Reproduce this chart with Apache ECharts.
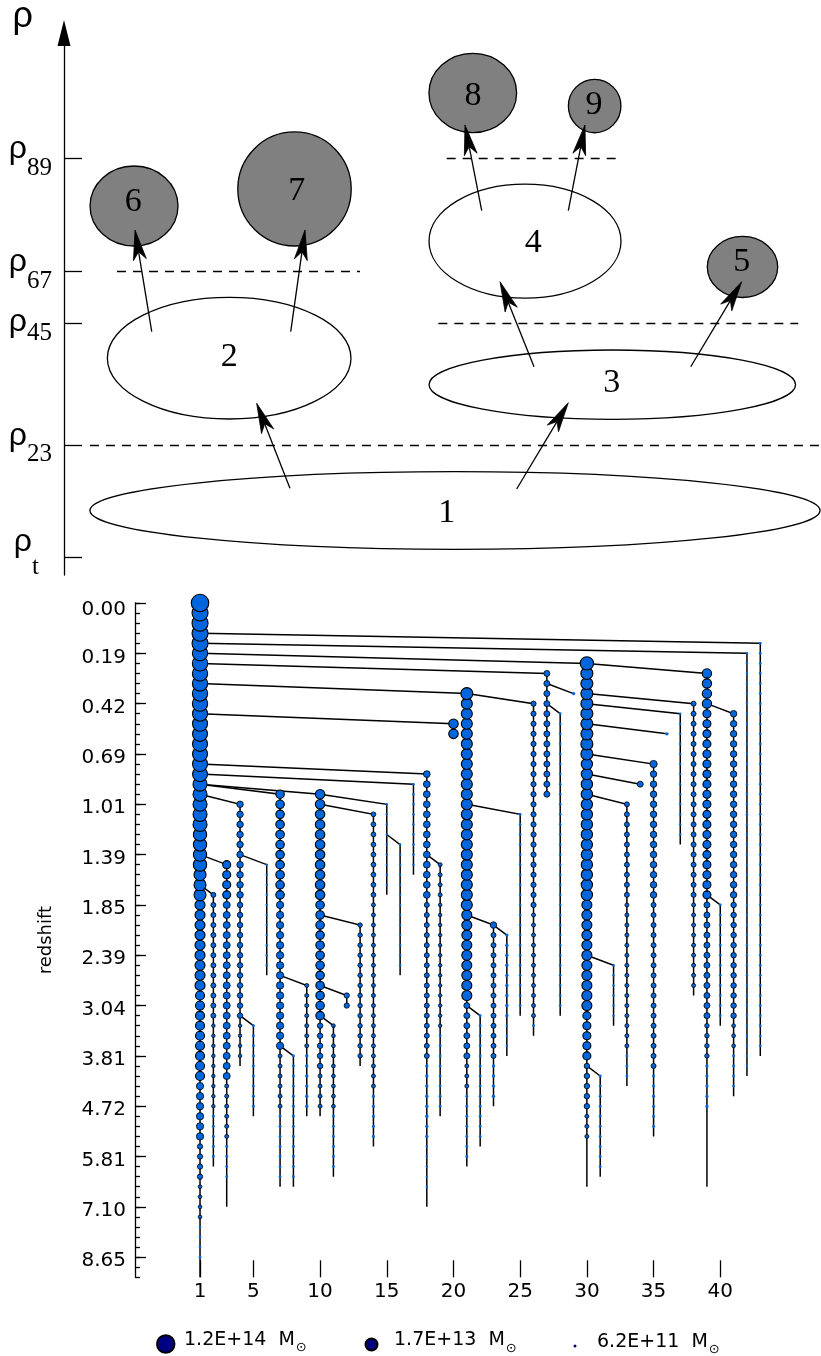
<!DOCTYPE html>
<html><head><meta charset="utf-8">
<script src="https://cdn.jsdelivr.net/npm/echarts@6.0.0/dist/echarts.min.js"></script>
<style>html,body{margin:0;padding:0;background:#fff}#c{width:821px;height:1356px}</style>
</head><body><div id="c"></div>
<script>
// ---------- top panel: density-threshold diagram ----------
const rhoLevels = [3.2, 24.0, 46.4, 56.0, 76.9];
const rhoSubs = ['t', '23', '45', '67', '89'];
const haloNames = ['1', '2', '3', '4', '5', '6', '7', '8', '9'];
const haloX  = [51.65, 21.82, 72.43, 60.90, 89.63, 9.25, 30.45, 54.00, 70.10];
const haloY  = [11.90, 40.00, 35.11, 61.59, 56.83, 68.08, 71.22, 88.93, 86.53];
const haloRX = [48.22, 16.09, 24.21, 12.68, 4.65, 5.81, 7.49, 5.79, 3.47];
const haloRY = [7.16, 11.22, 6.40, 10.52, 5.63, 7.38, 10.52, 7.32, 4.93];
const haloLeaf = [0, 0, 0, 0, 1, 1, 1, 1, 1];
const labelX = [50.55, 21.84, 72.35, 62.00, 89.52, 9.15, 30.74, 54.03, 70.01];
const labelY = [11.44, 40.28, 35.37, 61.20, 57.80, 68.87, 70.90, 88.38, 86.72];
const arrowFromX = [29.85, 59.80, 11.59, 29.95, 62.09, 82.79, 55.18, 66.62];
const arrowFromY = [16.00, 15.87, 44.89, 44.89, 38.43, 38.43, 67.21, 67.21];
const arrowToX   = [25.45, 66.62, 9.38, 31.84, 57.60, 89.52, 52.97, 68.82];
const arrowToY   = [31.68, 31.79, 63.65, 63.65, 54.11, 54.11, 83.03, 83.03];
const dashLevel = [76.9, 56.0, 46.4, 24.0];
const dashFrom  = [50.55, 7.00, 49.45, 3.43];
const dashTo    = [73.58, 39.10, 97.00, 100.0];

// ---------- bottom panel: merger tree ----------
const zLabels = ['0.00','0.19','0.42','0.69','1.01','1.39','1.85','2.39','3.04','3.81','4.72','5.81','7.10','8.65'];
const snapMax = 67;
const xTickVals = [1, 5, 10, 15, 20, 25, 30, 35, 40];
const branchCol    = [1, 2, 3, 4, 5, 6, 7, 8, 9,10,11,12,13,14,15,16,17,18,19,20,21,22,23,24,25,26,27,28,29,30,31,32,33,34,35,36,37,38,39,40,41,42,43];
const branchParent = [0, 1, 1, 1, 4, 4, 1, 7, 7, 1,10,10,10,10,10,15, 1, 1,18, 1, 1,21,21,23,21,21, 1,27,27, 1,30,30,30,30,30,30,30,30,30,39,39, 1, 1];
const branchStart  = [0,29,26,20,42,26,19,45,38,19,42,39,32,21,20,24,18,17,26,12, 9,41,32,33,21,10, 7,11, 9, 6,47,36,20,18,16,13,11,10, 7,30,11, 5, 4];
const branchEnd    = [67,56,60,46,51,37,58,58,51,51,57,40,46,54,29,37,27,60,51,13,56,54,50,45,41,43,19,41, 9,58,57,42,48,18,53,13,24,39,58,42,49,47,45];
// node diameters (px) read per run of snapshots: [firstSnap, lastSnap, diameter]
const branchSizes = [
  [[0,0,17.5],[1,4,16],[5,10,15.3],[11,17,15],[18,22,14],[23,26,13.3],[27,29,12],[30,38,10],[39,47,9],[48,53,7.3],[54,57,5.3],[58,61,3.7],[62,65,2.3]],
  [[29,41,5],[42,50,3.5],[51,55,2.5]],
  [[26,29,8],[30,47,7],[48,53,4],[54,57,2.5]],
  [[20,29,6.5],[30,41,5.5],[42,45,3.5]],
  [[42,50,2.5]],
  [[26,36,2]],
  [[19,29,8.5],[30,44,7.3],[45,50,4],[51,57,2.5]],
  [[45,57,2.5]],
  [[38,44,4],[45,50,3]],
  [[19,29,9.5],[30,41,8.5],[42,46,5.5],[47,50,4]],
  [[42,50,3.8],[51,56,2.5]],
  [[39,40,5.3]],
  [[32,45,4.5]],
  [[21,29,4.8],[30,48,4],[49,53,2.7]],
  [[20,28,2]],
  [[24,36,2]],
  [[18,26,2]],
  [[17,29,6.8],[30,45,5],[46,53,3],[54,58,2]],
  [[26,29,4],[30,42,3.5],[43,50,2.5]],
  [[12,13,9.5]],
  [[9,9,12],[10,30,11],[31,39,10],[40,45,6],[46,48,4],[49,55,2.5]],
  [[41,53,2.5]],
  [[32,32,6.5],[33,45,5],[46,49,3]],
  [[33,41,3],[42,44,2]],
  [[21,40,2.3]],
  [[10,30,5.2],[31,41,4],[42,42,2.5]],
  [[7,19,6]],
  [[11,40,2.3]],
  [[9,9,3]],
  [[6,6,13.3],[7,15,12],[16,29,11.3],[30,40,10],[41,45,8],[46,50,5.5],[51,53,4]],
  [[47,56,2.5]],
  [[36,41,2]],
  [[20,29,5],[30,44,4],[45,47,2.5]],
  [[18,18,6]],
  [[16,16,7.3],[17,29,6.5],[30,46,5],[47,52,2.7]],
  [[13,13,3]],
  [[11,23,2]],
  [[10,29,5],[30,38,4]],
  [[7,10,9.3],[11,29,8],[30,41,6],[42,45,4.5],[46,50,2.8]],
  [[30,41,2.3]],
  [[11,29,6.5],[30,41,5.5],[42,44,3.8],[45,48,2.5]],
  [[5,46,2]],
  [[4,44,2.3]]
];
const legendNames = ['L1', 'L2', 'L3'];
const legendMass = ['1.2E+14', '1.7E+13', '6.2E+11'];
const legendDiam = [17.5, 12, 3];

// ---------- build ----------
const haloData = haloX.map((x, k) => [x, haloY[k], haloRX[k], haloRY[k], haloLeaf[k], labelX[k], labelY[k]]);
const arrowData = arrowFromX.map((x, k) => [x, arrowFromY[k], arrowToX[k], arrowToY[k]]);
const dashData = dashLevel.map((v, k) => ({coords: [[dashFrom[k], v], [dashTo[k], v]]}));

const treeLines = branchCol.map((c, b) => {
  const coords = [];
  if (branchParent[b]) coords.push([branchParent[b], branchStart[b] - 1]);
  coords.push([c, branchStart[b]]);
  if (branchEnd[b] !== branchStart[b]) coords.push([c, branchEnd[b]]);
  return {coords};
});
const bigNodes = [], midNodes = [], tinyNodes = [];
branchCol.forEach((c, b) => {
  branchSizes[b].forEach(([i0, i1, d]) => {
    for (let i = i0; i <= i1; i++) (d >= 8 ? bigNodes : d >= 3.5 ? midNodes : tinyNodes).push([c, i, d]);
  });
});
[bigNodes, midNodes, tinyNodes].forEach(a => a.sort((p, q) => q[1] - p[1]));
const majorVals = zLabels.map((_, k) => k * 5);

const FS = 'DejaVu Sans';
const BLUE = '#0066dd';
const chart = echarts.init(document.getElementById('c'), null, {renderer: 'canvas'});
chart.setOption({
  animation: false,
  backgroundColor: '#fff',
  grid: [
    {left: 64, top: 33, width: 757, height: 542, outerBoundsMode: 'none'},
    {left: 135, top: 603, width: 645.3, height: 674.3, outerBoundsMode: 'none'}
  ],
  xAxis: [
    {gridIndex: 0, type: 'value', min: 0, max: 100, show: false, axisLine: {onZero: false}},
    {gridIndex: 1, type: 'value', min: -3.875, max: 44.5, position: 'bottom',
     axisLine: {show: false, onZero: false}, splitLine: {show: false},
     axisTick: {show: true, inside: true, length: 17, customValues: xTickVals, lineStyle: {color: '#000', width: 1.3}},
     axisLabel: {show: true, customValues: xTickVals, margin: 4, color: '#000', fontFamily: FS, fontSize: 20}}
  ],
  yAxis: [
    {gridIndex: 0, type: 'value', min: 0, max: 100,
     splitLine: {show: false},
     axisLine: {show: true, onZero: false, symbol: ['none', 'triangle'], symbolSize: [13, 26], lineStyle: {color: '#000', width: 1.3}},
     axisTick: {show: true, inside: true, length: 18, customValues: rhoLevels, lineStyle: {color: '#000', width: 1.3}},
     axisLabel: {show: true, customValues: rhoLevels, margin: 12, color: '#000',
       formatter: (v) => {
         let k = 0, best = 1e9;
         rhoLevels.forEach((l, j) => { if (Math.abs(l - v) < best) { best = Math.abs(l - v); k = j; } });
         if (rhoSubs[k] === 't') return '{rt|ρ}{st|t}';
         if (rhoSubs[k] === '45') return '{r45|ρ}{s|45}';
         return '{r|ρ}{s|' + rhoSubs[k] + '}';
       },
       rich: {
         r:   {fontFamily: 'Liberation Sans', fontSize: 32, color: '#000', padding: [0, 0, 18, 0], verticalAlign: 'middle'},
         r45: {fontFamily: 'Liberation Sans', fontSize: 32, color: '#000', padding: [0, 0, 3, 0], verticalAlign: 'middle'},
         rt:  {fontFamily: 'Liberation Sans', fontSize: 32, color: '#000', padding: [0, 0, 30, 0], verticalAlign: 'middle'},
         s:   {fontFamily: 'Liberation Serif', fontSize: 25, color: '#000', padding: [20, 0, 0, 0], verticalAlign: 'middle'},
         st:  {fontFamily: 'Liberation Serif', fontSize: 25, color: '#000', padding: [20, 13, 0, 0], verticalAlign: 'middle'}
       }},
     name: 'ρ', nameLocation: 'end', nameGap: -2,
     nameTextStyle: {fontFamily: 'Liberation Sans', fontSize: 36, color: '#000', align: 'right', padding: [0, 31, 0, 0]}},
    {gridIndex: 1, type: 'value', min: 0, max: snapMax, interval: 1, inverse: true, position: 'left',
     splitLine: {show: false},
     axisLine: {show: true, onZero: false, lineStyle: {color: '#000', width: 1.3}},
     axisTick: {show: true, inside: true, length: 5, lineStyle: {color: '#000', width: 1.3}},
     axisLabel: {show: false}},
    {gridIndex: 1, type: 'value', min: 0, max: snapMax, inverse: true, position: 'left',
     splitLine: {show: false},
     axisLine: {show: false, onZero: false},
     axisTick: {show: true, inside: true, length: 11, customValues: majorVals, lineStyle: {color: '#000', width: 1.3}},
     axisLabel: {show: true, customValues: majorVals, margin: 9,
       formatter: (v) => { const k = Math.round(v / 5); return (k === 0 ? '{f|' : '{n|') + zLabels[k] + '}'; },
       rich: {
         n: {fontFamily: FS, fontSize: 20, color: '#000', padding: [8, 0, 0, 0], verticalAlign: 'middle'},
         f: {fontFamily: FS, fontSize: 20, color: '#000', padding: [14, 0, 0, 0], verticalAlign: 'middle'}
       }},
     name: 'redshift', nameLocation: 'middle', nameGap: 80,
     nameTextStyle: {fontFamily: FS, fontSize: 18, color: '#000'}}
  ],
  legend: legendNames.map((nm, k) => ({
    data: [nm], icon: 'circle', selectedMode: false, padding: 0,
    left: [156, 364.5, 573.5][k], top: [1330.5, 1331, 1332.5][k],
    itemWidth: legendDiam[k], itemHeight: legendDiam[k],
    formatter: () => '{m|' + legendMass[k] + '  M}{s|⊙}',
    textStyle: {color: '#000', fontFamily: FS, fontSize: 19,
      rich: {m: {fontFamily: FS, fontSize: 19, color: '#000', padding: [0, 0, 8, [4.5, 11.5, 15.5][k]], verticalAlign: 'middle'},
             s: {fontFamily: FS, fontSize: 13, color: '#000', padding: [8, 0, 0, 1], verticalAlign: 'middle'}}}
  })),
  series: [
    {type: 'lines', coordinateSystem: 'cartesian2d', xAxisIndex: 0, yAxisIndex: 0, silent: true,
     data: dashData, lineStyle: {color: '#000', width: 1.3, type: [9, 7], opacity: 1}},
    {type: 'custom', xAxisIndex: 0, yAxisIndex: 0, silent: true, data: haloData,
     renderItem: (params, api) => {
       const c = api.coord([api.value(0), api.value(1)]);
       const s = api.size([api.value(2), api.value(3)]);
       const lc = api.coord([api.value(5), api.value(6)]);
       return {type: 'group', children: [
         {type: 'ellipse', shape: {cx: c[0], cy: c[1], rx: s[0], ry: s[1]},
          style: {fill: api.value(4) ? '#808080' : '#ffffff', stroke: '#000', lineWidth: 1.3}},
         {type: 'text', x: lc[0], y: lc[1],
          style: {text: haloNames[params.dataIndex], fill: '#000', font: '34px "Liberation Serif"',
                  textAlign: 'center', textVerticalAlign: 'middle', align: 'center', verticalAlign: 'middle'}}
       ]};
     }},
    {type: 'custom', xAxisIndex: 0, yAxisIndex: 0, silent: true, data: arrowData,
     renderItem: (params, api) => {
       const p0 = api.coord([api.value(0), api.value(1)]);
       const p1 = api.coord([api.value(2), api.value(3)]);
       const dx = p1[0] - p0[0], dy = p1[1] - p0[1];
       const len = Math.sqrt(dx * dx + dy * dy);
       const ux = dx / len, uy = dy / len, nx = -uy, ny = ux;
       const L = 30, W = 6.5, N = 8;
       const bx = p1[0] - ux * L, by = p1[1] - uy * L;
       const mx = p1[0] - ux * (L - N), my = p1[1] - uy * (L - N);
       return {type: 'group', children: [
         {type: 'line', shape: {x1: p0[0], y1: p0[1], x2: mx, y2: my}, style: {stroke: '#000', lineWidth: 1.3}},
         {type: 'polygon', shape: {points: [[p1[0], p1[1]], [bx + nx * W, by + ny * W], [mx, my], [bx - nx * W, by - ny * W]]},
          style: {fill: '#000', stroke: '#000', lineWidth: 0.8}}
       ]};
     }},
    {type: 'lines', coordinateSystem: 'cartesian2d', xAxisIndex: 1, yAxisIndex: 1, polyline: true, silent: true,
     data: treeLines, lineStyle: {color: '#000', width: 1.5, opacity: 1}},
    {type: 'scatter', xAxisIndex: 1, yAxisIndex: 1, silent: true, clip: false, data: tinyNodes,
     symbol: 'circle', symbolSize: (v) => v[2] + 0.4, itemStyle: {color: BLUE, opacity: 1}},
    {type: 'scatter', xAxisIndex: 1, yAxisIndex: 1, silent: true, clip: false, data: midNodes,
     symbol: 'circle', symbolSize: (v) => v[2], itemStyle: {color: BLUE, borderColor: '#000', borderWidth: 0.8, opacity: 1}},
    {type: 'scatter', xAxisIndex: 1, yAxisIndex: 1, silent: true, clip: false, data: bigNodes,
     symbol: 'circle', symbolSize: (v) => v[2], itemStyle: {color: BLUE, borderColor: '#000', borderWidth: 1.1, opacity: 1}},
    {type: 'scatter', name: 'L1', xAxisIndex: 1, yAxisIndex: 1, data: [], itemStyle: {color: '#000080', borderColor: '#000', borderWidth: 1, opacity: 1}},
    {type: 'scatter', name: 'L2', xAxisIndex: 1, yAxisIndex: 1, data: [], itemStyle: {color: '#000080', borderColor: '#000', borderWidth: 1, opacity: 1}},
    {type: 'scatter', name: 'L3', xAxisIndex: 1, yAxisIndex: 1, data: [], itemStyle: {color: '#000080', borderWidth: 0, opacity: 1}}
  ]
});
</script></body></html>
